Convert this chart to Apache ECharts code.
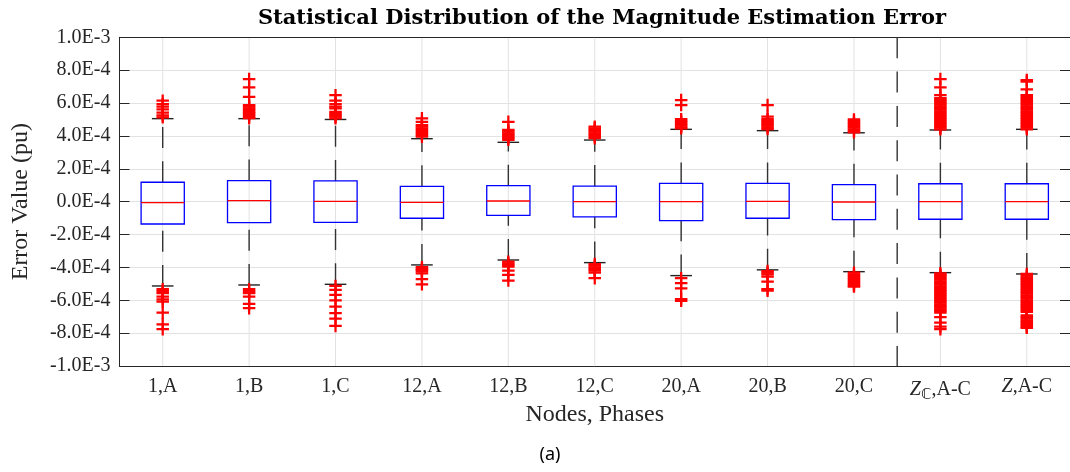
<!DOCTYPE html>
<html>
<head>
<meta charset="utf-8">
<script src="https://cdn.jsdelivr.net/npm/echarts@6/dist/echarts.min.js"></script>
<style>
  html, body { margin: 0; padding: 0; background: #fff; }
  #chart { width: 1070px; height: 472px; }
</style>
</head>
<body>
<div id="chart"></div>
<script>
// values are read in units of 1E-4 pu
var UNIT = 1e-4

var categories = ['1,A', '1,B', '1,C', '12,A', '12,B', '12,C', '20,A', '20,B', '20,C',
  '{z|Z}{c|ℂ},A-C', '{z|Z},A-C']

var yTickLabels = ['-1.0E-3', '-8.0E-4', '-6.0E-4', '-4.0E-4', '-2.0E-4', '0.0E-4',
  '2.0E-4', '4.0E-4', '6.0E-4', '8.0E-4', '1.0E-3']

var lowerWhisker = [-5.13, -5.07, -5.03, -3.85, -3.55, -3.71, -4.50, -4.15, -4.26, -4.32, -4.40]
var q1 = [-1.36, -1.28, -1.26, -1.01, -0.83, -0.93, -1.16, -1.01, -1.09, -1.07, -1.07]
var median = [-0.06, 0.06, 0.02, -0.04, 0.04, 0.0, 0.0, 0.02, -0.02, 0.0, 0.0]
var q3 = [1.18, 1.28, 1.26, 0.93, 0.97, 0.95, 1.11, 1.11, 1.03, 1.09, 1.09]
var upperWhisker = [5.05, 5.05, 5.00, 3.83, 3.61, 3.75, 4.40, 4.32, 4.19, 4.36, 4.40]

var out1A = [6.14, 5.94, 5.78, 5.61, 5.41, 5.25, 5.13, -5.33, -5.45, -5.57, -5.78, -5.94, -6.08, -6.75, -7.46, -7.76]
var out1B = [7.46, 6.95, 6.38, 5.88, 5.78, 5.68, 5.58, 5.48, 5.38, 5.28, 5.18, 5.08, -5.33, -5.45, -5.57, -5.78, -6.22, -6.48]
var out1C = [6.48, 6.14, 5.94, 5.78, 5.68, 5.47, 5.37, 5.27, 5.17, 5.07, -5.13, -5.37, -5.67, -6.01, -6.38, -6.79, -7.11, -7.56]
var out12A = [5.07, 4.86, 4.66, 4.56, 4.46, 4.36, 4.25, 4.15, 4.05, 3.95, -3.99, -4.09, -4.15, -4.25, -4.36, -4.72, -5.03]
var out12B = [4.86, 4.36, 4.26, 4.16, 4.06, 3.96, 3.86, 3.76, -3.65, -3.75, -3.85, -3.95, -4.19, -4.46, -4.80]
var out12C = [4.56, 4.46, 4.36, 4.26, 4.16, 4.06, 3.96, 3.86, -3.80, -3.90, -4.00, -4.10, -4.20, -4.32, -4.66]
var out20A = [6.18, 5.88, 5.02, 4.92, 4.82, 4.72, 4.62, 4.52, 4.46, -4.66, -4.96, -5.27, -5.93, -6.03]
var out20B = [5.88, 5.17, 5.02, 4.92, 4.82, 4.72, 4.62, 4.52, 4.42, -4.22, -4.32, -4.42, -4.56, -4.86, -5.32, -5.42]
var out20C = [5.00, 4.90, 4.80, 4.70, 4.60, 4.50, 4.40, 4.30, 4.22,
  -4.32, -4.42, -4.52, -4.62, -4.72, -4.82, -4.92, -5.02, -5.12, -5.17]
var outZC = [7.46, 6.95, 6.48, 6.30, 6.20, 6.10, 6.00, 5.90, 5.80, 5.70, 5.60, 5.50, 5.40, 5.30, 5.20, 5.10,
  5.00, 4.90, 4.80, 4.70, 4.60, 4.50, 4.40,
  -4.36, -4.45, -4.55, -4.65, -4.75, -4.85, -4.95, -5.05, -5.15, -5.25, -5.35, -5.45, -5.55, -5.65, -5.75,
  -5.85, -5.95, -6.05, -6.15, -6.25, -6.35, -6.45, -6.55, -6.65, -6.75,
  -7.03, -7.36, -7.60, -7.76]
var outZ = [7.40, 7.30, 6.83, 6.48, 6.40, 6.30, 6.20, 6.10, 6.00, 5.90, 5.80, 5.70, 5.60, 5.50, 5.40, 5.30,
  5.20, 5.10, 5.00, 4.90, 4.80, 4.70, 4.60, 4.50, 4.40,
  -4.40, -4.50, -4.60, -4.70, -4.80, -4.90, -5.00, -5.10, -5.20, -5.30, -5.40, -5.50, -5.60, -5.70, -5.80,
  -5.90, -6.00, -6.10, -6.20, -6.30, -6.40, -6.50, -6.60, -6.70,
  -6.92, -7.02, -7.12, -7.22, -7.32, -7.42, -7.52, -7.62, -7.68]

var outliers = [out1A, out1B, out1C, out12A, out12B, out12C, out20A, out20B, out20C, outZC, outZ]

// the dashed divider sits after this category index
var dividerAfter = 8

var yMin = -1e-3
var yStep = 2e-4
var txt = '#262626'
var serif = 'Liberation Serif'

var boxData = categories.map(function (c, i) {
  return [i, lowerWhisker[i] * UNIT, q1[i] * UNIT, median[i] * UNIT, q3[i] * UNIT, upperWhisker[i] * UNIT]
})
var outlierData = []
outliers.forEach(function (arr, i) {
  arr.forEach(function (v) { outlierData.push([i, v * UNIT]) })
})

var chart = echarts.init(document.getElementById('chart'))

var renderBox = function (params, api) {
  var i = api.value(0)
  var lo = api.coord([i, api.value(1)])
  var b1 = api.coord([i, api.value(2)])
  var md = api.coord([i, api.value(3)])
  var b3 = api.coord([i, api.value(4)])
  var hi = api.coord([i, api.value(5)])
  var x = lo[0]
  var bw = api.size([1, 0])[0] * 0.5
  var cw = bw / 4
  var dash = { stroke: '#333', lineWidth: 1.4, lineDash: [21, 13.3] }
  var cap = { stroke: '#222', lineWidth: 1.4 }
  return {
    type: 'group',
    children: [
      { type: 'line', shape: { x1: x, y1: b3[1], x2: x, y2: hi[1] }, style: dash },
      { type: 'line', shape: { x1: x, y1: lo[1], x2: x, y2: b1[1] }, style: dash },
      { type: 'line', shape: { x1: x - cw, y1: hi[1], x2: x + cw, y2: hi[1] }, style: cap },
      { type: 'line', shape: { x1: x - cw, y1: lo[1], x2: x + cw, y2: lo[1] }, style: cap },
      { type: 'rect', shape: { x: x - bw / 2, y: b3[1], width: bw, height: b1[1] - b3[1] },
        style: { fill: 'none', stroke: '#0000ff', lineWidth: 1.3 } },
      { type: 'line', shape: { x1: x - bw / 2, y1: md[1], x2: x + bw / 2, y2: md[1] },
        style: { stroke: '#ff0000', lineWidth: 1.3 } }
    ]
  }
}

var renderGridX = function (params, api) {
  var x = api.coord([api.value(0), 0])[0]
  var cs = params.coordSys
  return { type: 'line', shape: { x1: x, y1: cs.y, x2: x, y2: cs.y + cs.height },
    style: { stroke: '#e2e2e2', lineWidth: 1 } }
}

var renderDivider = function (params, api) {
  var i = api.value(0)
  var x = (api.coord([i, 0])[0] + api.coord([i + 1, 0])[0]) / 2
  var cs = params.coordSys
  return { type: 'line', shape: { x1: x, y1: cs.y, x2: x, y2: cs.y + cs.height },
    style: { stroke: '#333', lineWidth: 1.4, lineDash: [21, 13.3] } }
}

var xAxisBase = {
  type: 'category',
  data: categories,
  boundaryGap: true,
  axisLine: { onZero: false, lineStyle: { color: txt, width: 1 } },
  axisTick: { inside: true, alignWithLabel: true, interval: 0, length: 9, lineStyle: { color: txt } },
  splitLine: { show: false }
}

var yAxisBase = {
  type: 'value',
  min: yMin,
  max: 1e-3,
  interval: yStep,
  axisLine: { show: true, onZero: false, lineStyle: { color: txt, width: 1 } },
  axisTick: { show: true, inside: true, length: 10, lineStyle: { color: txt } }
}

chart.setOption({
  animation: false,
  title: [{
    text: 'Statistical Distribution of the Magnitude Estimation Error',
    left: 597,
    textAlign: 'center',
    top: 3,
    textStyle: { fontFamily: 'DejaVu Serif', fontWeight: 'bold', fontSize: 21, color: '#000' }
  }, {
    text: '(a)',
    left: 545,
    textAlign: 'center',
    top: 441,
    textStyle: { fontFamily: 'Noto Sans', fontWeight: 'normal', fontSize: 18, color: '#000' }
  }],
  grid: { left: 119.5, top: 37.3, width: 956, height: 328.7, containLabel: false },
  xAxis: [
    Object.assign({}, xAxisBase, {
      position: 'bottom',
      name: 'Nodes, Phases',
      nameLocation: 'middle',
      nameGap: 37,
      nameMoveOverlap: false,
      nameTextStyle: { fontFamily: serif, fontSize: 24, color: txt },
      axisLabel: {
        interval: 0,
        margin: 11,
        fontFamily: serif,
        fontSize: 20,
        color: txt,
        rich: {
          z: { fontFamily: serif, fontStyle: 'italic', fontSize: 20, color: txt },
          c: { fontFamily: 'DejaVu Sans', fontSize: 15, color: txt, padding: [11, 0, 0, 0] }
        }
      }
    }),
    Object.assign({}, xAxisBase, { position: 'top', axisLabel: { show: false } })
  ],
  yAxis: [
    Object.assign({}, yAxisBase, {
      position: 'left',
      name: 'Error Value (pu)',
      nameLocation: 'middle',
      nameGap: 87,
      nameTextStyle: { fontFamily: serif, fontSize: 24, color: txt },
      splitLine: { show: true, lineStyle: { color: '#e2e2e2', width: 1 } },
      axisLabel: {
        margin: 9,
        fontFamily: serif,
        fontSize: 20,
        color: txt,
        formatter: function (v) { return yTickLabels[Math.round((v - yMin) / yStep)] }
      }
    }),
    Object.assign({}, yAxisBase, {
      position: 'right',
      splitLine: { show: false },
      axisLabel: { show: false }
    })
  ],
  series: [
    {
      type: 'custom',
      z: -1,
      silent: true,
      renderItem: renderGridX,
      data: categories.map(function (c, i) { return [i] })
    },
    {
      type: 'custom',
      silent: true,
      renderItem: renderDivider,
      data: [[dividerAfter]]
    },
    {
      type: 'custom',
      renderItem: renderBox,
      encode: { x: 0, y: [1, 2, 3, 4, 5] },
      data: boxData
    },
    {
      type: 'scatter',
      symbol: 'path://M4.1,0H5.9V4.1H10V5.9H5.9V10H4.1V5.9H0V4.1H4.1Z',
      symbolSize: 12.5,
      itemStyle: { color: '#ff0000', opacity: 1 },
      data: outlierData
    }
  ]
})
</script>
</body>
</html>
